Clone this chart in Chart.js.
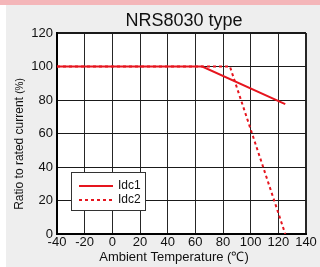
<!DOCTYPE html>
<html>
<head>
<meta charset="utf-8">
<script src="https://cdn.jsdelivr.net/npm/chart.js@4"></script>
<style>
  html, body { margin: 0; padding: 0; background: #eeeeee; }
  #wrap { width: 320px; height: 267px; }
</style>
</head>
<body>
<div id="wrap"><canvas id="myChart" width="320" height="267"></canvas></div>
<script>
// values
var chartTitle = 'NRS8030 type';
var xTitle = 'Ambient Temperature (\u2103)';
var yTitle = 'Ratio to rated current ';
var yUnit = '(%)';

var seriesNames = ['Idc1', 'Idc2'];
var tempIdc1 = [-40, 65, 125];
var ratioIdc1 = [100, 100, 77.5];
var tempIdc2 = [-40, 85, 125];
var ratioIdc2 = [100, 100, 0];

var xMin = -40, xMax = 140, xStep = 20;
var yMin = 0, yMax = 120, yStep = 20;

var red = '#e6151e';
var font = '"Liberation Sans", Arial, sans-serif';

function toPoints(xs, ys) {
    var pts = [];
    for (let i = 0; i < xs.length; i++) {
        pts.push({x: xs[i], y: ys[i]});
    }
    return pts;
}

// page background, plot fill, titles and the boxed legend
var decor = {
    id: 'decor',
    beforeDraw: function(chart) {
        var c = chart.ctx, a = chart.chartArea;
        c.save();
        c.fillStyle = '#eeeeee';
        c.fillRect(0, 0, chart.width, chart.height);
        c.fillStyle = '#f4b6b9';
        c.fillRect(0, 0, chart.width, 5);
        c.fillStyle = '#ffffff';
        c.fillRect(0, 5, 6, chart.height - 5);
        c.fillRect(a.left, a.top, a.right - a.left, a.bottom - a.top);
        c.restore();
    },
    afterDraw: function(chart) {
        var c = chart.ctx;
        c.save();
        c.fillStyle = '#111';
        c.textBaseline = 'middle';
        c.textAlign = 'center';
        c.font = '18px ' + font;
        c.fillText(chartTitle, 184, 21);
        c.font = '13px ' + font;
        c.fillText(xTitle, 174, 257);

        // y title, rotated, unit a bit smaller
        c.translate(20, 144);
        c.rotate(-Math.PI / 2);
        c.font = '12px ' + font;
        var w1 = c.measureText(yTitle).width;
        c.font = '10px ' + font;
        var w2 = c.measureText(yUnit).width;
        c.textAlign = 'left';
        c.font = '12px ' + font;
        c.fillText(yTitle, -(w1 + w2) / 2, 0);
        c.font = '10px ' + font;
        c.fillText(yUnit, -(w1 + w2) / 2 + w1, 0);
        c.restore();

        // legend box
        c.save();
        c.fillStyle = '#ffffff';
        c.fillRect(71, 172, 74, 38);
        c.strokeStyle = '#333';
        c.lineWidth = 1;
        c.strokeRect(71.5, 172.5, 74, 38);
        var ds = chart.data.datasets;
        for (let i = 0; i < ds.length; i++) {
            var y = 186 + i * 14;
            c.strokeStyle = ds[i].borderColor;
            c.lineWidth = ds[i].borderWidth;
            c.setLineDash(ds[i].borderDash || []);
            c.beginPath();
            c.moveTo(79, y);
            c.lineTo(113, y);
            c.stroke();
            c.setLineDash([]);
            c.fillStyle = '#111';
            c.font = '12px ' + font;
            c.textBaseline = 'middle';
            c.textAlign = 'left';
            c.fillText(ds[i].label, 118, y);
        }
        c.restore();
    }
};

function edgeWidth(max) {
    return function(ctx) {
        return (ctx.tick && ctx.tick.value === max) ? 2 : 1;
    };
}

const config = {
    type: 'line',
    data: {
        datasets: [{
            label: seriesNames[0],
            data: toPoints(tempIdc1, ratioIdc1),
            borderColor: red,
            backgroundColor: red,
            borderWidth: 2,
            pointRadius: 0,
            tension: 0
        },
        {
            label: seriesNames[1],
            data: toPoints(tempIdc2, ratioIdc2),
            borderColor: red,
            backgroundColor: red,
            borderWidth: 2,
            borderDash: [3, 3],
            pointRadius: 0,
            tension: 0
        }]
    },
    options: {
        responsive: false,
        animation: false,
        layout: {padding: {top: 33, right: 14, left: 0, bottom: 0}},
        plugins: {
            legend: {display: false},
            title: {display: false},
            tooltip: {enabled: false}
        },
        scales: {
            x: {
                type: 'linear',
                min: xMin,
                max: xMax,
                afterFit: function(scale) { scale.height = 33; },
                ticks: {
                    stepSize: xStep,
                    color: '#111',
                    padding: 1,
                    maxRotation: 0,
                    font: {family: font, size: 13}
                },
                grid: {
                    color: '#262626',
                    lineWidth: edgeWidth(xMax),
                    drawTicks: false
                },
                border: {color: '#000', width: 2}
            },
            y: {
                min: yMin,
                max: yMax,
                afterFit: function(scale) { scale.width = 57; },
                ticks: {
                    stepSize: yStep,
                    color: '#111',
                    padding: 4,
                    font: {family: font, size: 13}
                },
                grid: {
                    color: '#1a1a1a',
                    lineWidth: edgeWidth(yMax),
                    drawTicks: false
                },
                border: {color: '#000', width: 2}
            }
        }
    },
    plugins: [decor]
};

var myChart = new Chart(document.getElementById('myChart'), config);
</script>
</body>
</html>
